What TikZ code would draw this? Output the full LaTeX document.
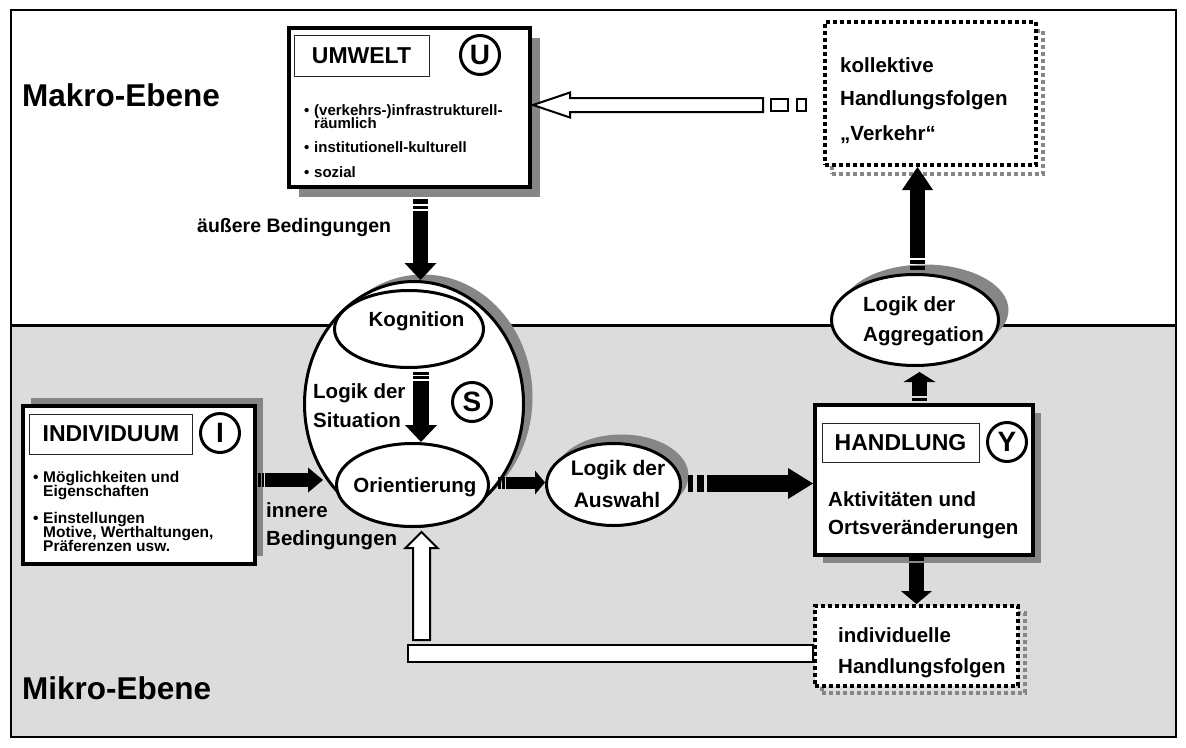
\documentclass[tikz,border=0pt]{standalone}
\usepackage{fontspec}
\setmainfont{Liberation Sans}
\usetikzlibrary{arrows.meta,shapes.geometric,shadows,calc}
\definecolor{panelgray}{HTML}{DCDCDC}
\definecolor{shadegray}{HTML}{868686}
\pgfdeclarelayer{back}
\pgfdeclarelayer{mid}
\pgfsetlayers{back,mid,main}
\newcommand\sz[1]{\fontsize{#1}{#1}\selectfont\bfseries}
\newcommand\bul{\makebox[10pt][l]{•}}

\tikzset{
  every node/.style={inner sep=0pt},
  txt/.style={anchor=base west, font=\sz{#1}},
  ctxt/.style={anchor=base, font=\sz{#1}},
  mainbox/.style={draw, line width=4pt, fill=white, rectangle},
  dotbox/.style={draw, line width=4pt, dash pattern=on 4pt off 3pt, fill=white, rectangle},
  titlebox/.style={draw=black!85, line width=1pt, fill=white, rectangle, font=\sz{23}},
  letterring/.style={draw, circle, line width=3pt, minimum size=39pt, font=\sz{28}},
  oval/.style={draw, ellipse, line width=3pt, fill=white},
  dropshade/.style n args={2}{general shadow={fill=shadegray, shadow xshift=#1, shadow yshift=#2}},
  dotshade/.style n args={2}{general shadow={draw=shadegray, line width=4pt, dash pattern=on 4pt off 3pt, shadow xshift=#1, shadow yshift=#2}},
  blk/.style n args={3}{line width=#1, -{Triangle[width=#2, length=#3, line width=0pt]}},
  tailbar/.style={fill=black},
  hollow/.style={draw, line width=2pt, fill=white, line join=miter},
}

\begin{document}
\begin{tikzpicture}[x=1pt,y=-1pt]
\useasboundingbox (0,0) rectangle (1186,747);

% the two levels
\begin{pgfonlayer}{back}
  \fill[panelgray] (11,325) rectangle (1176,737);
\end{pgfonlayer}
\draw[line width=2pt] (11,10) rectangle (1176,737);
\draw[line width=3pt] (11,325) -- (1176,325);
\node[txt=31.5] (makro) at (22,106) {Makro-Ebene};
\node[txt=31.5] (mikro) at (22,699) {Mikro-Ebene};

% environment
\node[mainbox, dropshade={10pt}{-10pt}, minimum width=241pt, minimum height=159pt] (umwelt) at (409.5,107.5) {};
\node[titlebox, minimum width=135pt, minimum height=41pt] (umtitle) at (361.5,55.5) {UMWELT};
\node[letterring] (uring) at (480,55) {U};
\node[txt=15] (um1) at (304,115) {\bul(verkehrs-)infrastrukturell-};
\node[txt=15] (um2) at (314,128) {räumlich};
\node[txt=15] (um3) at (304,152) {\bul institutionell-kulturell};
\node[txt=15] (um4) at (304,177) {\bul sozial};
\node[txt=19.5] (aussen) at (197,232) {äußere Bedingungen};

% individual
\node[mainbox, dropshade={8pt}{8pt}, minimum width=232pt, minimum height=158pt] (indiv) at (139,485) {};
\node[titlebox, minimum width=163pt, minimum height=40pt] (intitle) at (111,434) {INDIVIDUUM};
\node[letterring] (iring) at (220,433) {I};
\node[txt=15.5] (in1) at (33,482) {\bul Möglichkeiten und};
\node[txt=15.5] (in2) at (43,496) {Eigenschaften};
\node[txt=15.5] (in3) at (33,523) {\bul Einstellungen};
\node[txt=15.5] (in4) at (43,537) {Motive, Werthaltungen,};
\node[txt=15.5] (in5) at (43,551) {Präferenzen usw.};

% situation
\node[oval, dropshade={9pt}{7pt}, minimum width=219pt, minimum height=245pt] (bigS) at (414,404) {};
\node[oval, minimum width=149pt, minimum height=77pt] (kog) at (409,329) {};
\node[ctxt=20.5] (kogtxt) at (416.5,326) {Kognition};
\node[oval, minimum width=152pt, minimum height=83pt] (orient) at (412.5,485) {};
\node[ctxt=20.5] (orienttxt) at (415,492) {Orientierung};
\node[txt=20.5] (sit1) at (313,398) {Logik der};
\node[txt=20.5] (sit2) at (313,427) {Situation};
\node[letterring] (sring) at (472,402) {S};
\node[txt=20.5] (inn1) at (266,517) {innere};
\node[txt=20.5] (inn2) at (266,545) {Bedingungen};

% selection
\node[oval, dropshade={8pt}{9pt}, minimum width=134pt, minimum height=82pt] (auswahl) at (613.5,484.5) {};
\node[ctxt=21] (aw1) at (618,475) {Logik der};
\node[ctxt=21] (aw2) at (617,507) {Auswahl};

% action
\node[mainbox, dropshade={8pt}{-8pt}, minimum width=218pt, minimum height=150pt] (handlung) at (924,480) {};
\node[titlebox, minimum width=157pt, minimum height=39pt] (hdtitle) at (900.5,442.5) {HANDLUNG};
\node[letterring] (yring) at (1007,442) {Y};
\node[txt=20.5] (hd1) at (828,506) {Aktivitäten und};
\node[txt=20.5] (hd2) at (828,534) {Ortsveränderungen};

% aggregation
\node[oval, dropshade={10pt}{10pt}, minimum width=167pt, minimum height=91pt] (aggr) at (915,320) {};
\node[txt=20.5] (ag1) at (863,311) {Logik der};
\node[txt=20.5] (ag2) at (863,341) {Aggregation};

% collective outcome
\node[dotbox, dotshade={7pt}{-9pt}, minimum width=211pt, minimum height=143pt] (koll) at (930.5,93.5) {};
\node[txt=20.5] (ko1) at (840,72) {kollektive};
\node[txt=20.5] (ko2) at (840,105) {Handlungsfolgen};
\node[txt=20.5] (ko3) at (840,140) {„Verkehr“};

% individual outcome
\node[dotbox, dotshade={7pt}{-7pt}, minimum width=203pt, minimum height=80pt] (indfolg) at (916.5,646) {};
\node[txt=20.5] (if1) at (838,642) {individuelle};
\node[txt=20.5] (if2) at (838,673) {Handlungsfolgen};

% solid block arrows with striped tails
\fill[tailbar] ($(umwelt.south)+(3.5,10)$) rectangle ++(15,5);
\fill[tailbar] ($(umwelt.south)+(3.5,17)$) rectangle ++(15,3);
\draw[blk={15pt}{32pt}{17pt}] ($(umwelt.south)+(11,22)$) -- ($(bigS.north)+(6.5,0)$);

\fill[tailbar] ($(kog.south)+(4,3)$) rectangle ++(16,2.5);
\fill[tailbar] ($(kog.south)+(4,7)$) rectangle ++(16,3);
\draw[blk={16pt}{32pt}{17pt}] ($(kog.south)+(12,12)$) -- ($(orient.north)+(8.5,0)$);

\fill[tailbar] ($(indiv.east)+(1,-12)$) rectangle ++(2.5,14);
\fill[tailbar] ($(indiv.east)+(5,-12)$) rectangle ++(2,14);
\draw[blk={14pt}{25pt}{15pt}] ($(indiv.east)+(8,-5)$) -- ($(indiv.east)+(66,-5)$);

\fill[tailbar] ($(orient.east)+(8,-8.5)$) rectangle ++(2.5,12);
\fill[tailbar] ($(orient.east)+(12,-8.5)$) rectangle ++(2.5,12);
\draw[blk={12pt}{24pt}{10pt}] ($(orient.east)+(16,-2.5)$) -- ($(auswahl.west)+(0,-2)$);

\fill[tailbar] ($(auswahl.east)+(6,-9.5)$) rectangle ++(5,17);
\fill[tailbar] ($(auswahl.east)+(15,-9.5)$) rectangle ++(7,17);
\draw[blk={17pt}{31pt}{25pt}] ($(auswahl.east)+(25,-1)$) -- ($(handlung.west)+(0,3.5)$);

\begin{pgfonlayer}{mid}
  \fill[tailbar] ($(handlung.north)+(-12,-2)$) rectangle ++(15,-3);
  \draw[blk={15pt}{32pt}{10pt}] ($(handlung.north)+(-4.5,-7)$) -- ($(aggr.south)+(4.5,5)$);
\end{pgfonlayer}

\fill[tailbar] ($(aggr.north)+(-5,-3)$) rectangle ++(15,-4);
\fill[tailbar] ($(aggr.north)+(-5,-9)$) rectangle ++(15,-4);
\draw[blk={15pt}{31pt}{23pt}] ($(aggr.north)+(2.5,-15)$) -- ($(koll.south)+(-13,0)$);

\fill[tailbar] ($(handlung.south)+(-15,0)$) rectangle ++(15,4);
\draw[blk={15pt}{31pt}{13pt}] ($(handlung.south)+(-7.5,6)$) -- (indfolg.north);

% hollow feedback arrows
\draw[hollow] ($(umwelt.east)+(1,-2.5)$) -- ++(37,-12.5) -- ++(0,5.5) -- ++(193,0)
  -- ++(0,14) -- ++(-193,0) -- ++(0,5.5) -- cycle;
\draw[hollow] ($(koll.west)+(-52,5.5)$) rectangle ++(17,12);
\draw[hollow] ($(koll.west)+(-26,5.5)$) rectangle ++(9,12);

\draw[hollow] ($(indfolg.west)+(0,-1)$) rectangle ++(-405,17);
\draw[hollow] ($(orient.south)+(9,4)$) -- ++(16,16) -- ++(-7.5,0) -- ++(0,92)
  -- ++(-17,0) -- ++(0,-92) -- ++(-7.5,0) -- cycle;
\end{tikzpicture}
\end{document}
